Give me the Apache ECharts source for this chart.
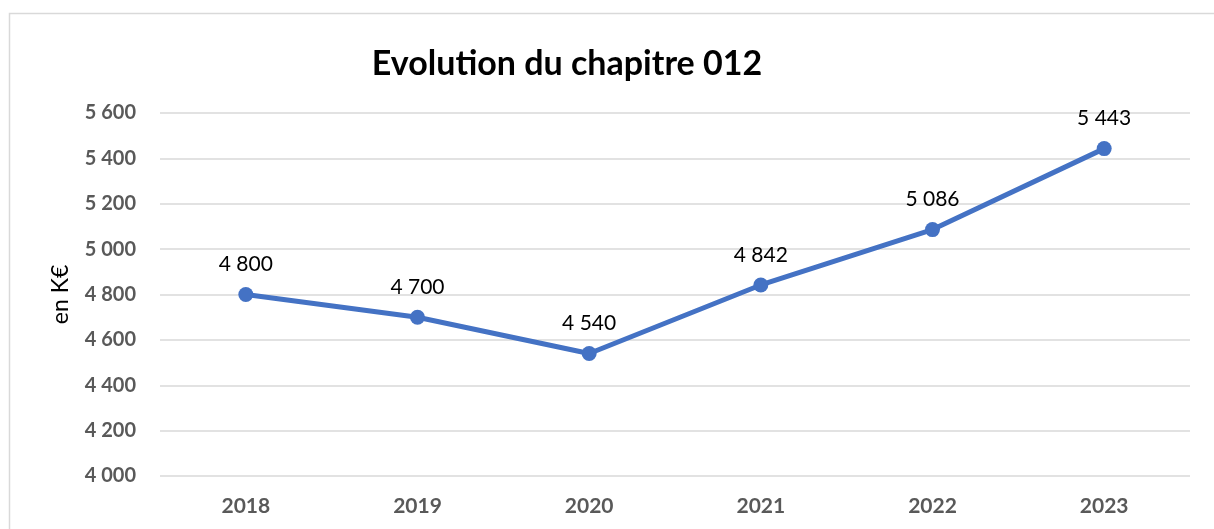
<!DOCTYPE html>
<html>
<head>
<meta charset="utf-8">
<script src="https://cdn.jsdelivr.net/npm/echarts@6/dist/echarts.min.js"></script>
<style>
  html, body { margin: 0; padding: 0; background: #fff; }
  #chart { width: 1214px; height: 529px; }
</style>
</head>
<body>
<div id="chart"></div>
<script>
const years = ['2018', '2019', '2020', '2021', '2022', '2023']
const charges = [4800, 4700, 4540, 4842, 5086, 5443]

// séparateur de milliers à la française
const fmt = v => String(v).replace(/\B(?=(\d{3})+(?!\d))/g, ' ')

const chart = echarts.init(document.getElementById('chart'))

const option = {
  animation: false,
  textStyle: { fontFamily: 'Lato, "Open Sans", sans-serif' },
  title: {
    text: 'Evolution du chapitre 012',
    left: 562,
    top: 42,
    textAlign: 'center',
    textStyle: { fontSize: 34, fontWeight: 'bold', color: '#000', fontFamily: 'Lato' }
  },
  graphic: [
    {
      type: 'rect',
      shape: { x: 9.5, y: 13.5, width: 1300, height: 600 },
      style: { fill: 'none', stroke: '#d9d9d9', lineWidth: 1.5 },
      silent: true
    }
  ],
  grid: { left: 160, right: 24, top: 113, bottom: 53 },
  xAxis: {
    type: 'category',
    data: years,
    axisLine: { show: false },
    axisTick: { show: false },
    axisLabel: { fontSize: 21, fontWeight: 'bold', color: '#595959', margin: 20, fontFamily: 'Lato' }
  },
  yAxis: {
    type: 'value',
    min: 4000,
    max: 5600,
    interval: 200,
    name: 'en K€',
    nameLocation: 'middle',
    nameRotate: 90,
    nameGap: 88,
    nameTextStyle: { fontSize: 23, color: '#000', fontFamily: 'Lato' },
    axisLine: { show: false },
    axisTick: { show: false },
    axisLabel: { fontSize: 20, fontWeight: 'bold', color: '#595959', margin: 24, formatter: fmt, fontFamily: 'Lato' },
    splitLine: { lineStyle: { color: '#d9d9d9', width: 1.5 } }
  },
  series: [
    {
      type: 'line',
      data: charges,
      symbol: 'circle',
      symbolSize: 15,
      lineStyle: { color: '#4472C4', width: 5 },
      itemStyle: { color: '#4472C4' },
      label: {
        show: true,
        position: 'top',
        distance: 12,
        fontSize: 21,
        color: '#000',
        fontFamily: 'Lato',
        formatter: p => fmt(p.value)
      }
    }
  ]
}

chart.setOption(option)
</script>
</body>
</html>
